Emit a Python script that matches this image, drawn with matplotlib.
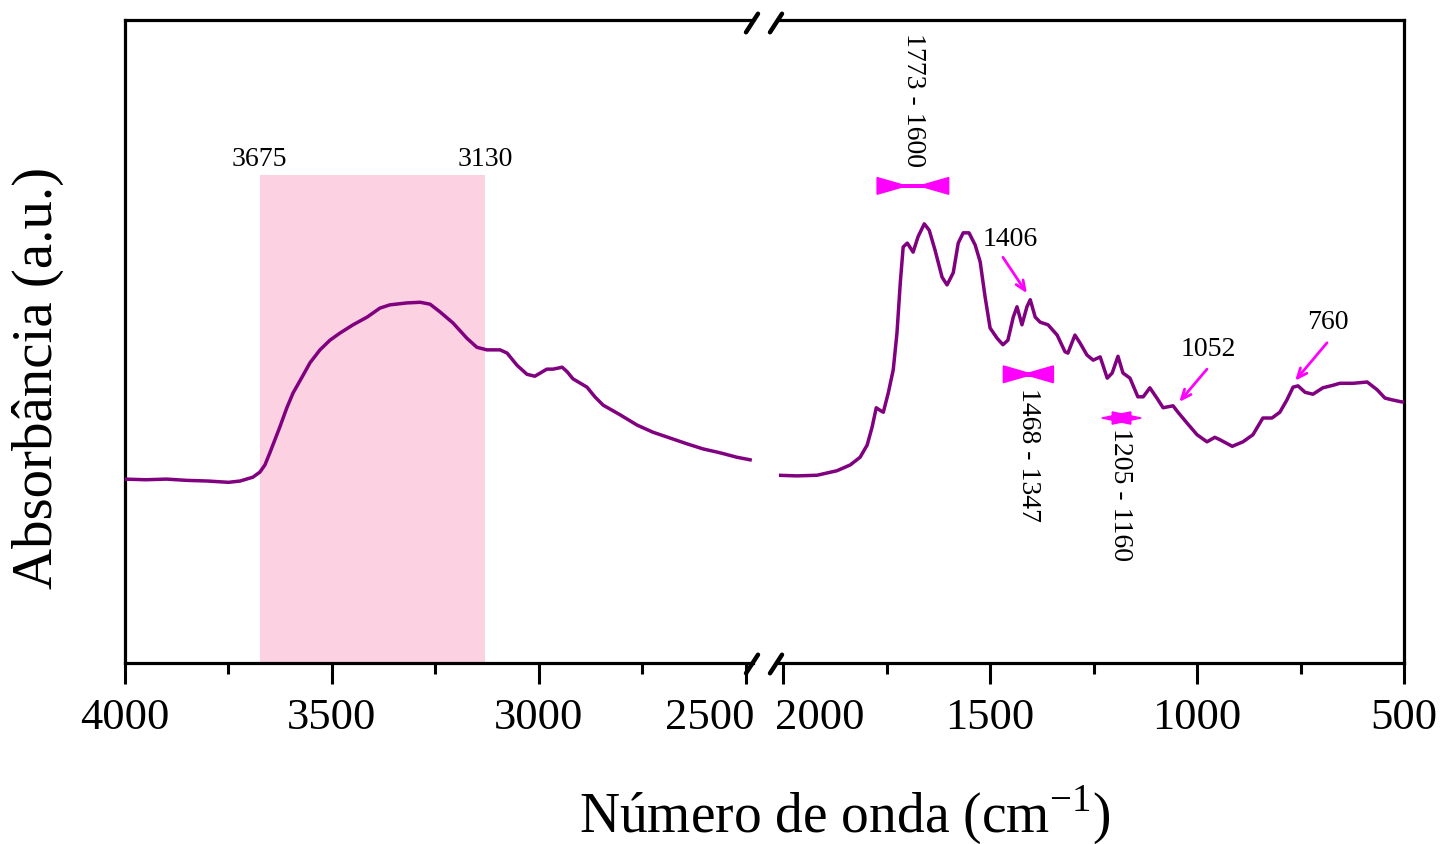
import matplotlib
matplotlib.use("Agg")
import matplotlib.pyplot as plt
import matplotlib.transforms as mtransforms
from matplotlib.patches import Polygon, Rectangle
from matplotlib.lines import Line2D

# FTIR spectrum (absorbance in arbitrary units)
wn_high = [4000, 3950, 3900, 3850, 3800, 3750, 3722, 3691, 3674, 3662, 3650, 3638, 3626,
           3609, 3594, 3572, 3553, 3529, 3505, 3481, 3449, 3415, 3384, 3360, 3319, 3287,
           3263, 3239, 3208, 3174, 3150, 3126, 3094, 3077, 3053, 3029, 3010, 2981, 2966,
           2944, 2932, 2918, 2884, 2865, 2845, 2804, 2763, 2725, 2684, 2643, 2604, 2563,
           2522, 2490]
abs_high = [0.286, 0.285, 0.286, 0.284, 0.283, 0.281, 0.283, 0.289, 0.297, 0.308, 0.327, 0.347, 0.367,
            0.397, 0.420, 0.445, 0.467, 0.487, 0.502, 0.513, 0.526, 0.538, 0.552, 0.557, 0.560, 0.561,
            0.558, 0.546, 0.529, 0.505, 0.491, 0.487, 0.487, 0.482, 0.463, 0.449, 0.446, 0.457, 0.457,
            0.460, 0.453, 0.442, 0.429, 0.414, 0.401, 0.386, 0.370, 0.359, 0.350, 0.341, 0.333, 0.327,
            0.320, 0.316]

wn_low = [2014, 1966, 1918, 1870, 1838, 1814, 1797, 1785, 1775, 1766, 1758, 1746, 1734,
          1725, 1717, 1710, 1700, 1686, 1674, 1659, 1647, 1633, 1616, 1604, 1589, 1577,
          1565, 1551, 1536, 1524, 1512, 1500, 1483, 1469, 1457, 1444, 1435, 1423, 1411,
          1403, 1391, 1379, 1360, 1338, 1319, 1312, 1295, 1283, 1266, 1251, 1234, 1217,
          1205, 1191, 1179, 1162, 1143, 1130, 1114, 1097, 1082, 1058, 1046, 1024, 1000,
          976, 957, 944, 915, 889, 865, 841, 819, 800, 783, 768, 756, 739, 720, 696, 671,
          655, 623, 589, 565, 546, 527, 505, 500]
abs_low = [0.292, 0.291, 0.292, 0.299, 0.308, 0.320, 0.339, 0.367, 0.397, 0.393, 0.390, 0.420, 0.456,
           0.513, 0.591, 0.647, 0.653, 0.639, 0.663, 0.683, 0.673, 0.642, 0.600, 0.588, 0.607, 0.653,
           0.669, 0.669, 0.650, 0.624, 0.569, 0.521, 0.505, 0.495, 0.502, 0.538, 0.554, 0.526, 0.554,
           0.565, 0.538, 0.530, 0.526, 0.510, 0.484, 0.482, 0.510, 0.498, 0.479, 0.471, 0.476, 0.443,
           0.451, 0.477, 0.451, 0.443, 0.414, 0.414, 0.428, 0.412, 0.397, 0.400, 0.390, 0.373, 0.355,
           0.344, 0.351, 0.347, 0.337, 0.344, 0.355, 0.381, 0.381, 0.390, 0.409, 0.429, 0.431, 0.421,
           0.418, 0.428, 0.432, 0.435, 0.435, 0.437, 0.425, 0.412, 0.409, 0.406, 0.406]

# shaded OH band
band_range = (3675, 3130)
band_top = 0.759

# bow-tie markers: (start, end, y, half height)
ranges = [(1773, 1600, 0.742, 0.013), (1468, 1347, 0.449, 0.013), (1205, 1160, 0.381, 0.0095)]
range_labels = ["1773 - 1600", "1468 - 1347", "1205 - 1160"]
range_label_pos = [(1686, 0.980), (1408, 0.428), (1186, 0.365)]

# arrows: label, text pos, arrow tail, arrow tip
peak_labels = ["1406", "1052", "760"]
peak_text = [(1452, 0.658), (973, 0.487), (684, 0.529)]
peak_tail = [(1469, 0.631), (976, 0.457), (686, 0.498)]
peak_tip = [(1411, 0.575), (1043, 0.406), (763, 0.439)]

LINE = "#800080"
MAGENTA = "#FF00FF"
PINK = "#FCD1E1"
SERIF = "Liberation Serif"

plt.rcParams["font.family"] = SERIF
plt.rcParams["mathtext.fontset"] = "custom"
plt.rcParams["mathtext.rm"] = SERIF

W, H = 1440, 844
fig = plt.figure(figsize=(W / 100, H / 100), dpi=100)


def fx(px):
    return px / W


def fy(py):
    return 1 - py / H


bottom, top = fy(663), fy(20)
ax1 = fig.add_axes([fx(125), bottom, fx(753) - fx(125), top - bottom])
ax2 = fig.add_axes([fx(779), bottom, fx(1404) - fx(779), top - bottom])

ax1.set_xlim(4000, 2483)
ax2.set_xlim(2010, 500)
for ax in (ax1, ax2):
    ax.set_ylim(0, 1)
    ax.set_yticks([])
    for s in ax.spines.values():
        s.set_linewidth(2.3)
    ax.tick_params(axis="x", which="major", direction="out", length=15, width=2.2,
                   labelsize=32, pad=10)
    ax.tick_params(axis="x", which="minor", direction="out", length=8, width=2.2)
ax1.spines["right"].set_visible(False)
ax2.spines["left"].set_visible(False)

ax1.set_xticks([4000, 3500, 3000, 2500])
ax1.set_xticks([3750, 3250, 2750], minor=True)
ax2.set_xticks([2000, 1500, 1000, 500])
ax2.set_xticks([1750, 1250, 750], minor=True)

# push the two labels next to the break apart
lbl = ax1.get_xticklabels()[-1]
lbl.set_horizontalalignment("right")
lbl.set_transform(lbl.get_transform() + mtransforms.ScaledTranslation(0.09, 0, fig.dpi_scale_trans))
lbl = ax2.get_xticklabels()[0]
lbl.set_horizontalalignment("left")
lbl.set_transform(lbl.get_transform() + mtransforms.ScaledTranslation(-0.08, 0, fig.dpi_scale_trans))

# shaded band and its labels
ax1.add_patch(Rectangle((band_range[1], 0), band_range[0] - band_range[1], band_top,
                        facecolor=PINK, edgecolor="none", zorder=0))
for v in band_range:
    ax1.text(v, band_top + 0.004, str(v), ha="center", va="bottom", fontsize=20)

ax1.plot(wn_high, abs_high, color=LINE, lw=2.5, zorder=3, solid_joinstyle="round")
ax2.plot(wn_low, abs_low, color=LINE, lw=2.5, zorder=3, solid_joinstyle="round")

# bow-tie range markers
tri_len = 70  # cm-1
bar_h = 0.0035
for (x1, x2, yc, hh), txt, (tx, ty) in zip(ranges, range_labels, range_label_pos):
    ax2.add_patch(Polygon([(x1, yc - hh), (x1, yc + hh), (x1 - tri_len, yc)],
                          closed=True, facecolor=MAGENTA, edgecolor=MAGENTA, lw=1))
    ax2.add_patch(Polygon([(x2, yc - hh), (x2, yc + hh), (x2 + tri_len, yc)],
                          closed=True, facecolor=MAGENTA, edgecolor=MAGENTA, lw=1))
    ax2.add_patch(Rectangle((x2, yc - bar_h), x1 - x2, 2 * bar_h,
                            facecolor=MAGENTA, edgecolor="none"))
    ax2.text(tx, ty, txt, rotation=-90, ha="center", va="top", fontsize=20)

# arrows to single peaks
for txt, tp, tail, tip in zip(peak_labels, peak_text, peak_tail, peak_tip):
    ax2.text(tp[0], tp[1], txt, ha="center", va="center", fontsize=20)
    ax2.annotate("", xy=tip, xytext=tail,
                 arrowprops=dict(arrowstyle="->,head_length=0.7,head_width=0.3",
                                 color=MAGENTA, lw=2, shrinkA=0, shrinkB=0))

# break marks
for cx in (fx(752), fx(776)):
    for cy in (fy(23), fy(664)):
        fig.add_artist(Line2D([cx - fx(6), cx + fx(6)], [cy - 0.011, cy + 0.011],
                              color="black", lw=3.2, solid_capstyle="round"))

fig.text(fx(845), fy(815), "Número de onda (cm$^{-1}$)", ha="center", va="center", fontsize=40)
fig.text(fx(38), fy(378), "Absorbância (a.u.)", rotation=90, ha="center", va="center",
         fontsize=41)

fig.savefig("out.png", dpi=100)
